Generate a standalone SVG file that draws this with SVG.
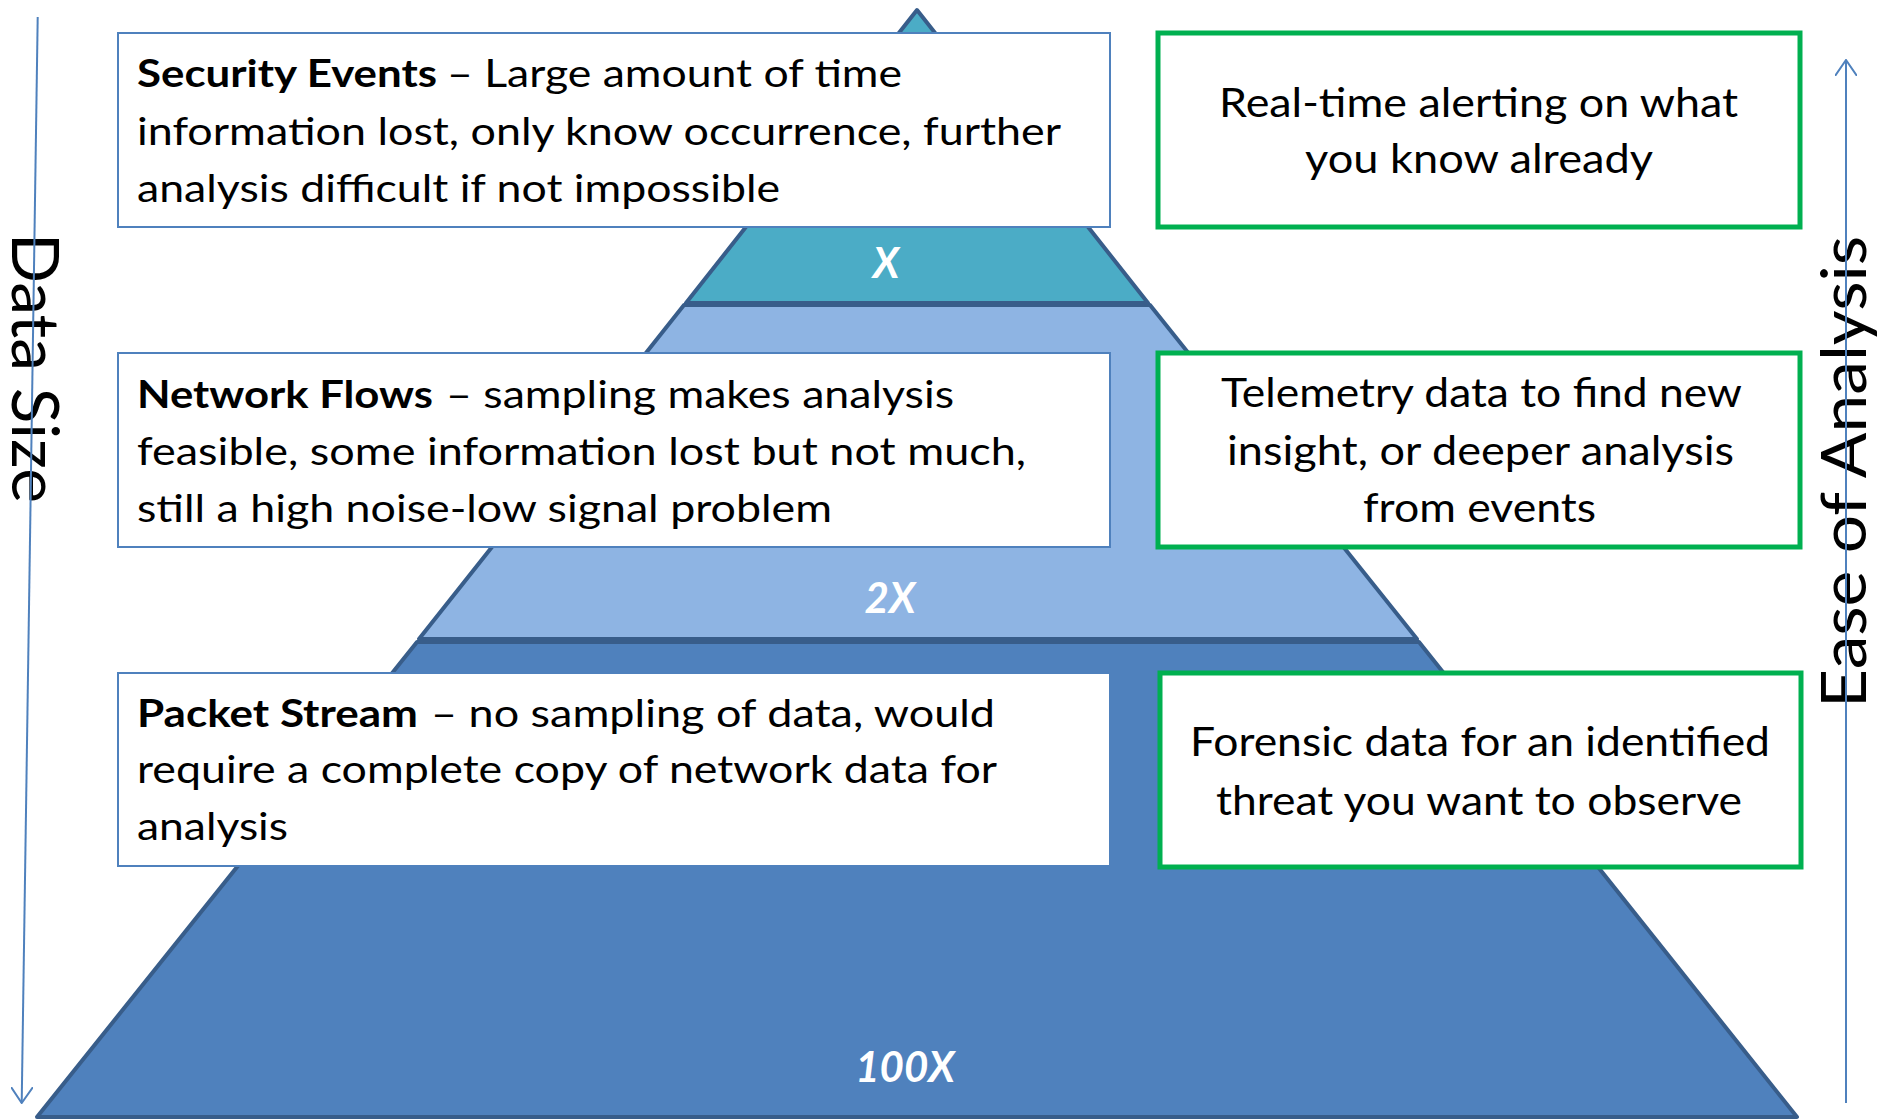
<svg xmlns="http://www.w3.org/2000/svg" width="1881" height="1120" viewBox="0 0 1881 1120">
<style>
.layer{stroke:#385D8A;stroke-width:4;stroke-linejoin:round}
.lbox{fill:#FFFFFF;stroke:#4F81BD;stroke-width:2}
.gbox{fill:#FFFFFF;stroke:#00B050;stroke-width:5}
.t{font-family:Lato,"Open Sans","Liberation Sans",sans-serif;fill:#000000;font-size:38.5px}
.b{font-weight:bold}
.r{font-family:Lato,"Open Sans","Liberation Sans",sans-serif;fill:#000000;font-size:41px}
.lbl{font-family:Lato,"Open Sans","Liberation Sans",sans-serif;fill:#FFFFFF;font-size:42px;font-weight:bold;font-style:italic;text-anchor:middle}
.axis{font-family:Lato,"Open Sans","Liberation Sans",sans-serif;fill:#000000}
.arrow{stroke:#4F81BD;stroke-width:2;fill:none}
</style>
<defs>
<marker id="vhead" viewBox="0 0 17 22" refX="16" refY="11" markerWidth="17" markerHeight="22" markerUnits="userSpaceOnUse" orient="auto">
<path d="M0,0 L16,11 L0,22" fill="none" stroke="#4F81BD" stroke-width="2"/>
</marker>
</defs>
<rect x="0" y="0" width="1881" height="1120" fill="#FFFFFF"/>

<g id="pyramid">
<g id="layer-100x">
<polygon class="layer" fill="#4F81BD" points="417,642 1419,642 1797,1117 37,1117"/>
<text class="lbl" x="905" y="1082">100X</text>
</g>
<g id="layer-2x">
<polygon class="layer" fill="#8EB4E3" points="684,305 1150,305 1417,639 419,639"/>
<text class="lbl" x="890" y="613">2X</text>
</g>
<g id="layer-x">
<polygon class="layer" fill="#4BACC6" points="917,10 1148,303 686,303"/>
<text class="lbl" x="886" y="278">X</text>
</g>
</g>

<g id="axis-labels">
<text class="axis" font-size="66" transform="translate(12,233) rotate(90)" textLength="270" lengthAdjust="spacingAndGlyphs">Data Size</text>
<text class="axis" font-size="61" transform="translate(1866,708) rotate(-90)" textLength="472" lengthAdjust="spacingAndGlyphs">Ease of Analysis</text>
</g>

<g id="connectors">
<line class="arrow" x1="37.7" y1="17" x2="21.7" y2="1103" marker-end="url(#vhead)"/>
<line class="arrow" x1="1846" y1="1103" x2="1846" y2="60" marker-end="url(#vhead)"/>
</g>

<g id="security-events">
<rect class="lbox" x="118" y="33" width="992" height="194"/>
<text class="t b" x="137" y="87" textLength="300" lengthAdjust="spacingAndGlyphs">Security Events</text>
<text class="t" x="447" y="87" textLength="455" lengthAdjust="spacingAndGlyphs">– Large amount of time</text>
<text class="t" x="137" y="145" textLength="924" lengthAdjust="spacingAndGlyphs">information lost, only know occurrence, further</text>
<text class="t" x="137" y="202" textLength="643" lengthAdjust="spacingAndGlyphs">analysis difficult if not impossible</text>
</g>

<g id="network-flows">
<rect class="lbox" x="118" y="353" width="992" height="194"/>
<text class="t b" x="137" y="408" textLength="296" lengthAdjust="spacingAndGlyphs">Network Flows</text>
<text class="t" x="446" y="408" textLength="508" lengthAdjust="spacingAndGlyphs">– sampling makes analysis</text>
<text class="t" x="137" y="465" textLength="889" lengthAdjust="spacingAndGlyphs">feasible, some information lost but not much,</text>
<text class="t" x="137" y="522" textLength="695" lengthAdjust="spacingAndGlyphs">still a high noise-low signal problem</text>
</g>

<g id="packet-stream">
<rect class="lbox" x="118" y="673" width="992" height="193"/>
<text class="t b" x="137" y="727" textLength="281" lengthAdjust="spacingAndGlyphs">Packet Stream</text>
<text class="t" x="431" y="727" textLength="564" lengthAdjust="spacingAndGlyphs">– no sampling of data, would</text>
<text class="t" x="137" y="783" textLength="860" lengthAdjust="spacingAndGlyphs">require a complete copy of network data for</text>
<text class="t" x="137" y="840" textLength="151" lengthAdjust="spacingAndGlyphs">analysis</text>
</g>

<g id="real-time-alerting">
<rect class="gbox" x="1158" y="33" width="642" height="194"/>
<text class="r" x="1219" y="117" textLength="519" lengthAdjust="spacingAndGlyphs">Real-time alerting on what</text>
<text class="r" x="1305" y="173" textLength="348" lengthAdjust="spacingAndGlyphs">you know already</text>
</g>

<g id="telemetry-data">
<rect class="gbox" x="1158" y="353" width="642" height="194"/>
<text class="r" x="1221" y="407" textLength="521" lengthAdjust="spacingAndGlyphs">Telemetry data to find new</text>
<text class="r" x="1227" y="465" textLength="507" lengthAdjust="spacingAndGlyphs">insight, or deeper analysis</text>
<text class="r" x="1363" y="522" textLength="233" lengthAdjust="spacingAndGlyphs">from events</text>
</g>

<g id="forensic-data">
<rect class="gbox" x="1160" y="673" width="641" height="194"/>
<text class="r" x="1190" y="756" textLength="580" lengthAdjust="spacingAndGlyphs">Forensic data for an identified</text>
<text class="r" x="1216" y="815" textLength="526" lengthAdjust="spacingAndGlyphs">threat you want to observe</text>
</g>
</svg>
